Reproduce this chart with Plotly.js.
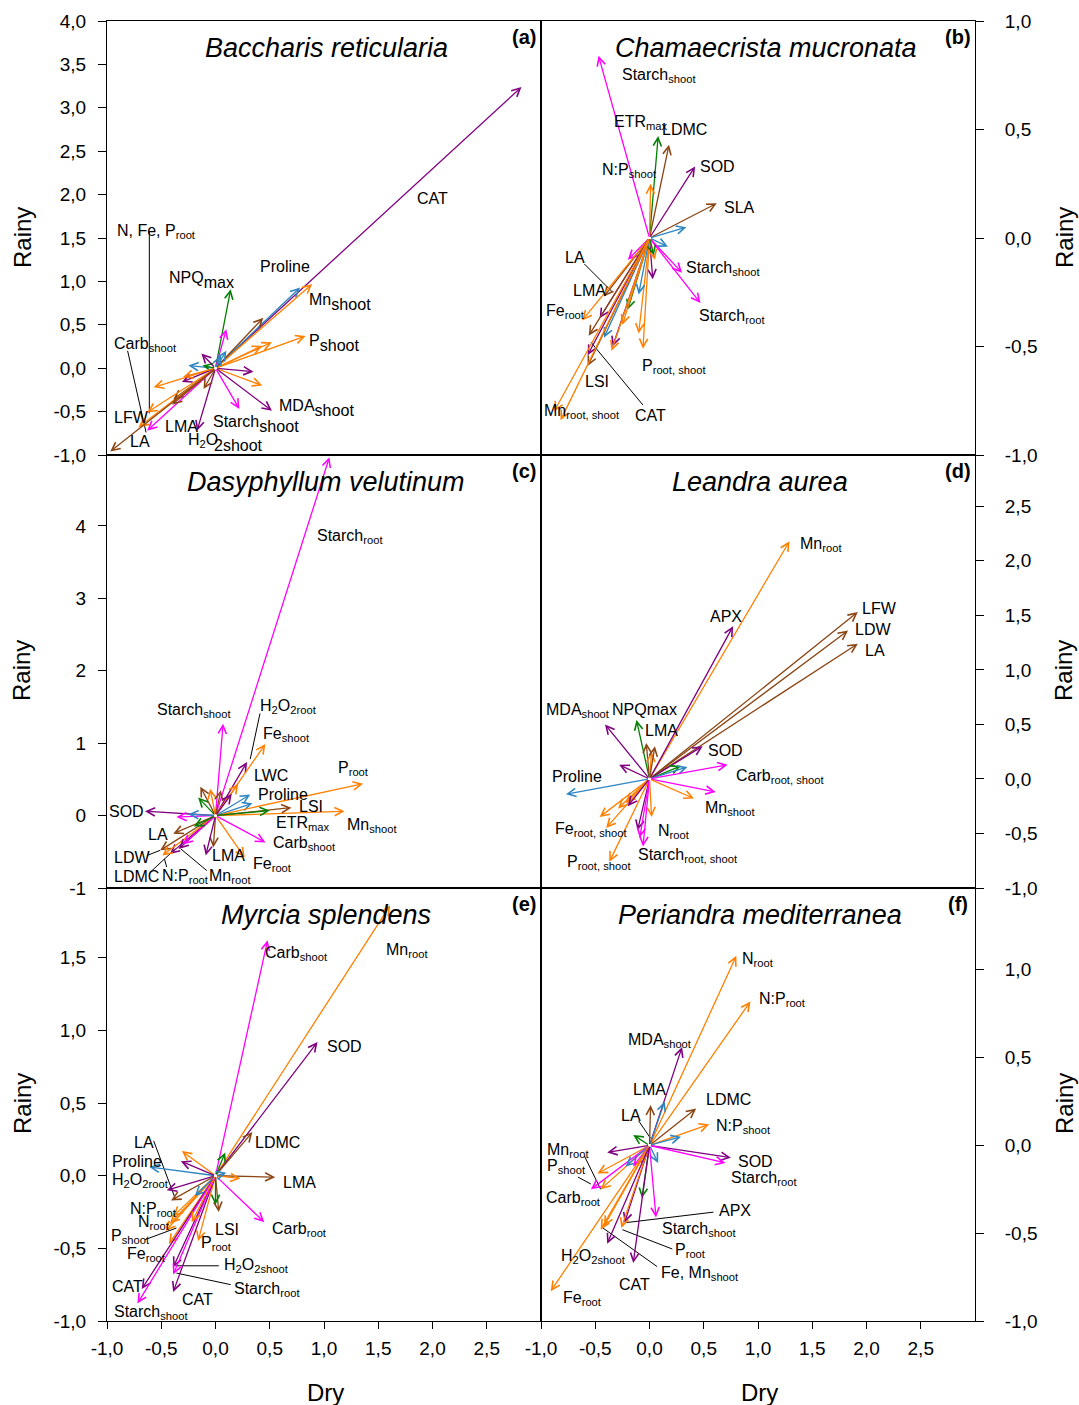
<!DOCTYPE html>
<html><head><meta charset="utf-8">
<script src="https://cdn.plot.ly/plotly-3.0.1.min.js"></script>
<style>body{margin:0;background:#fff}</style>
</head><body>
<div id="chart" style="width:1079px;height:1405px"></div>
<script>
// ---------- DATA (arrow tips; every arrow starts at the origin) ----------
// group codes: P purple, O orange, B brown, M magenta, G green, C blue
const aX = [2.82,0.78,0.89,0.83,0.52,0.43,0.44,0.14,0.10,0.10,0.05,-0.25,-0.12,-0.13,0.35,0.43,0.52,0.22,-0.17,-0.57,-0.31,-0.30,-0.39,-0.11,-0.63,-0.63,-0.71,-0.97,-0.40];
const aY = [3.24,0.93,0.97,0.37,0.30,0.26,0.58,0.91,0.45,0.20,0.15,0.03,0.03,0.17,-0.04,-0.20,-0.49,-0.47,-0.72,-0.22,-0.16,-0.10,-0.36,-0.24,-0.51,-0.72,-0.68,-0.96,-0.42];
const aG = ['P','C','O','O','O','O','B','G','M','C','C','C','G','P','P','O','P','M','P','O','P','O','B','B','O','M','O','B','B'];

const bX = [-0.47,0.08,0.18,0.01,0.42,0.62,0.34,0.17,0.30,0.47,-0.20,0.03,0.05,-0.10,-0.06,-0.20,-0.10,-0.42,-0.34,-0.35,-0.46,-0.42,-0.62,-0.56,-0.57,-0.57,-0.88,-0.82,-0.25,0.04];
const bY = [0.84,0.47,0.43,0.25,0.33,0.16,0.05,-0.04,-0.16,-0.30,-0.10,-0.19,-0.10,-0.44,-0.51,-0.33,-0.26,-0.46,-0.50,-0.52,-0.37,-0.27,-0.38,-0.45,-0.54,-0.59,-0.80,-0.84,-0.40,-0.08];
const bG = ['M','G','B','O','P','B','C','C','M','M','M','P','O','O','O','G','C','C','P','O','P','B','O','B','P','B','O','O','O','G'];

const cX = [1.05,0.07,0.29,0.46,0.21,0.32,0.34,1.36,1.19,0.70,0.50,0.46,0.27,-0.02,-0.09,-0.65,-0.36,-0.25,-0.14,-0.16,-0.05,0.05,0.15,-0.39,-0.51,-0.42,-0.49,-0.34,-0.30,-0.20];
const cY = [4.95,1.27,0.74,0.99,0.44,0.29,0.17,0.44,0.06,0.11,0.07,-0.37,-0.58,-0.44,-0.55,0.06,-0.02,0.02,0.40,0.25,0.37,0.35,0.30,-0.25,-0.48,-0.53,-0.55,-0.46,-0.40,-0.15];
const cG = ['M','M','P','O','O','C','C','O','O','B','G','M','O','B','P','P','M','C','B','G','O','B','P','B','B','P','O','P','M','G'];

const dX = [1.29,0.77,1.92,1.83,1.92,-0.41,-0.12,-0.03,0.02,0.05,0.49,0.29,0.35,0.72,0.61,0.41,-0.77,-0.28,-0.46,-0.40,-0.29,-0.22,-0.37,-0.11,-0.09,-0.06,0.02,-0.20];
const dY = [2.18,1.40,1.53,1.36,1.24,0.50,0.54,0.33,0.25,0.30,0.30,0.12,0.11,0.13,-0.12,-0.18,-0.14,0.13,-0.35,-0.45,-0.27,-0.22,-0.76,-0.47,-0.54,-0.62,-0.35,-0.25];
const dG = ['O','P','B','B','B','P','G','B','O','B','P','G','C','M','M','O','C','P','O','O','O','O','O','P','M','M','O','P'];

const eX = [1.61,0.48,0.94,0.34,0.09,0.55,0.23,0.45,0.03,0.00,-0.16,-0.61,-0.31,-0.32,-0.45,-0.41,-0.46,-0.42,-0.39,-0.43,-0.19,-0.68,-0.39,-0.72,-0.39,-0.39,-0.22,0.10];
const eY = [1.86,1.62,0.92,0.30,0.16,-0.01,-0.02,-0.32,-0.25,-0.20,-0.45,0.06,0.17,0.10,-0.10,-0.17,-0.38,-0.33,-0.28,-0.47,-0.14,-0.78,-0.80,-0.88,-0.63,-0.68,-0.32,0.02];
const eG = ['O','M','P','B','G','B','O','M','B','G','O','C','O','P','P','B','O','O','O','O','C','P','P','M','P','M','O','C'];

const fX = [0.80,0.93,0.30,0.14,0.01,0.43,0.55,0.29,-0.15,0.75,0.70,0.08,-0.39,-0.48,-0.54,-0.45,-0.22,-0.15,0.06,-0.07,-0.23,-0.26,-0.45,-0.42,-0.39,-0.15,-0.91];
const fY = [1.08,0.82,0.56,0.25,0.23,0.21,0.12,0.05,0.06,-0.07,-0.10,-0.10,-0.04,-0.16,-0.25,-0.25,-0.12,-0.12,-0.41,-0.30,-0.44,-0.47,-0.48,-0.46,-0.56,-0.67,-0.83];
const fG = ['O','O','P','C','B','B','O','C','G','P','M','C','P','O','M','O','C','M','M','G','P','O','O','O','P','P','O'];

// ---------- variable labels ----------
// BIG(): label whose subscript is printed at full size (panel a)
const BIG = (main, sub) => '<span style="font-size:16px">' + main + '</span><sub>' + sub + '</sub>';
const aLabels = ['N, Fe, P<sub>root</sub>',BIG('NPQ','max'),'Proline',BIG('Mn','shoot'),BIG('P','shoot'),'CAT','Carb<sub>shoot</sub>',BIG('MDA','shoot'),BIG('Starch','shoot'),'LMA','H<sub>2</sub>O','2shoot','LFW','LA'];
const bLabels = ['Starch<sub>shoot</sub>','ETR<sub>max</sub>','LDMC','N:P<sub>shoot</sub>','SOD','SLA','LA','LMA','Fe<sub>root</sub>','Starch<sub>shoot</sub>','Starch<sub>root</sub>','P<sub>root, shoot</sub>','LSI','Mn<sub>root, shoot</sub>','CAT'];
const cLabels = ['Starch<sub>root</sub>','Starch<sub>shoot</sub>','H<sub>2</sub>O<sub>2root</sub>','Fe<sub>shoot</sub>','LWC','Proline','LSI','P<sub>root</sub>','ETR<sub>max</sub>','Mn<sub>shoot</sub>','Carb<sub>shoot</sub>','SOD','LA','LDW','LMA','Fe<sub>root</sub>','LDMC','N:P<sub>root</sub>','Mn<sub>root</sub>'];
const dLabels = ['Mn<sub>root</sub>','APX','LFW','LDW','LA','MDA<sub>shoot</sub>','NPQmax','LMA','SOD','Proline','Carb<sub>root, shoot</sub>','Mn<sub>shoot</sub>','Fe<sub>root, shoot</sub>','N<sub>root</sub>','Starch<sub>root, shoot</sub>','P<sub>root, shoot</sub>'];
const eLabels = ['Carb<sub>shoot</sub>','Mn<sub>root</sub>','SOD','LDMC','LMA','Carb<sub>root</sub>','LSI','P<sub>root</sub>','H<sub>2</sub>O<sub>2shoot</sub>','Starch<sub>root</sub>','CAT','LA','Proline','H<sub>2</sub>O<sub>2root</sub>','N:P<sub>root</sub>','N<sub>root</sub>','P<sub>shoot</sub>','Fe<sub>root</sub>','CAT','Starch<sub>shoot</sub>'];
const fLabels = ['N<sub>root</sub>','N:P<sub>root</sub>','MDA<sub>shoot</sub>','LMA','LDMC','LA','N:P<sub>shoot</sub>','Mn<sub>root</sub>','P<sub>shoot</sub>','SOD','Starch<sub>root</sub>','Carb<sub>root</sub>','APX','Starch<sub>shoot</sub>','P<sub>root</sub>','H<sub>2</sub>O<sub>2shoot</sub>','Fe, Mn<sub>shoot</sub>','CAT','Fe<sub>root</sub>'];

const speciesNames = ['Baccharis reticularia','Chamaecrista mucronata','Dasyphyllum velutinum','Leandra aurea','Myrcia splendens','Periandra mediterranea'];
const panelTags = ['(a)','(b)','(c)','(d)','(e)','(f)'];

const xTickVals = [-1,-0.5,0,0.5,1,1.5,2,2.5];
const xTickText = ['-1,0','-0,5','0,0','0,5','1,0','1,5','2,0','2,5'];
const aTickVals = [-1,-0.5,0,0.5,1,1.5,2,2.5,3,3.5,4];
const bTickVals = [-1,-0.5,0,0.5,1];
const cTickVals = [-1,0,1,2,3,4];
const dTickVals = [-1,-0.5,0,0.5,1,1.5,2,2.5];
const eTickVals = [-1,-0.5,0,0.5,1,1.5];
const fTickVals = [-1,-0.5,0,0.5,1];

// ---------- layout helpers (label placement, leader lines) ----------
const aLabelPos = [[-0.93,1.57],[-0.45,1.02],[0.39,1.17],[0.84,0.76],[0.84,0.29],[1.84,1.96],[-0.95,0.27],[0.57,-0.46],[-0.04,-0.64],[-0.48,-0.67],[-0.27,-0.83],[-0.03,-0.89],[-0.95,-0.57],[-0.81,-0.85]];
const bLabelPos = [[-0.27,0.75],[-0.35,0.53],[0.10,0.50],[-0.46,0.31],[0.45,0.33],[0.67,0.14],[-0.80,-0.09],[-0.72,-0.24],[-0.97,-0.34],[0.32,-0.14],[0.44,-0.36],[-0.09,-0.59],[-0.61,-0.66],[-0.99,-0.80],[-0.15,-0.82]];
const cLabelPos = [[0.92,3.85],[-0.56,1.45],[0.39,1.51],[0.42,1.12],[0.34,0.55],[0.37,0.29],[0.75,0.12],[1.11,0.65],[0.54,-0.11],[1.19,-0.14],[0.51,-0.39],[-1.0,0.06],[-0.64,-0.26],[-0.95,-0.58],[-0.05,-0.55],[0.33,-0.68],[-0.95,-0.84],[-0.51,-0.84],[-0.08,-0.84]];
const dLabelPos = [[1.37,2.15],[0.54,1.49],[1.94,1.56],[1.88,1.37],[1.97,1.18],[-0.97,0.63],[-0.36,0.64],[-0.06,0.44],[0.52,0.26],[-0.92,0.02],[0.78,0.02],[0.49,-0.27],[-0.89,-0.46],[0.06,-0.48],[-0.12,-0.70],[-0.78,-0.77]];
const eLabelPos = [[0.44,1.53],[1.55,1.55],[1.01,0.89],[0.35,0.23],[0.60,-0.05],[0.50,-0.37],[-0.02,-0.37],[-0.15,-0.47],[0.06,-0.62],[0.15,-0.78],[-0.33,-0.85],[-0.77,0.23],[-0.97,0.10],[-0.97,-0.03],[-0.81,-0.23],[-0.73,-0.32],[-0.98,-0.42],[-0.83,-0.54],[-0.97,-0.76],[-0.95,-0.94]];
const fLabelPos = [[0.83,1.06],[0.99,0.83],[-0.22,0.60],[-0.17,0.32],[0.50,0.26],[-0.28,0.17],[0.59,0.11],[-0.96,-0.03],[-0.96,-0.12],[0.80,-0.09],[0.73,-0.19],[-0.97,-0.30],[0.62,-0.37],[0.10,-0.48],[0.22,-0.60],[-0.83,-0.63],[0.09,-0.73],[-0.30,-0.79],[-0.82,-0.87]];

const aLeaders = [[[-0.61,1.58],[-0.61,-0.52]],[[-0.81,0.20],[-0.64,-0.74]]];
const bLeaders = [[[-0.60,-0.12],[-0.34,-0.25]],[[-0.54,-0.48],[-0.06,-0.77]]];
const cLeaders = [[[0.41,1.41],[0.32,0.78]],[[-0.63,-0.55],[-0.51,-0.48]],[[-0.60,-0.78],[-0.37,-0.46]],[[-0.45,-0.71],[-0.47,-0.60]],[[-0.08,-0.76],[-0.32,-0.46]]];
const dLeaders = [];
const eLeaders = [[[-0.57,0.24],[-0.37,-0.16]],[[-0.37,-0.62],[0.03,-0.62]],[[-0.36,-0.67],[0.14,-0.75]],[[-0.65,-0.44],[-0.36,-0.36]]];
const fLeaders = [[[-0.22,-0.44],[0.59,-0.38]],[[-0.25,-0.48],[0.21,-0.59]],[[-0.43,-0.47],[0.07,-0.69]],[[-0.10,0.14],[0.01,0.04]],[[-0.60,-0.06],[-0.45,-0.25]],[[-0.66,-0.18],[-0.54,-0.22]]];

const COLORS = {P:'#800080', O:'#FF8000', B:'#8B4513', M:'#FF00FF', G:'#008000', C:'#2E86C1'};
const FONT = 'Arial, "Liberation Sans", sans-serif';

const panels = [
  {X:aX,Y:aY,G:aG,L:aLabels,LP:aLabelPos,LD:aLeaders,ticks:aTickVals,yr:[-1,4],dec:1,col:0,row:0},
  {X:bX,Y:bY,G:bG,L:bLabels,LP:bLabelPos,LD:bLeaders,ticks:bTickVals,yr:[-1,1],dec:1,col:1,row:0},
  {X:cX,Y:cY,G:cG,L:cLabels,LP:cLabelPos,LD:cLeaders,ticks:cTickVals,yr:[-1,4.98],dec:0,col:0,row:1},
  {X:dX,Y:dY,G:dG,L:dLabels,LP:dLabelPos,LD:dLeaders,ticks:dTickVals,yr:[-1,2.97],dec:1,col:1,row:1},
  {X:eX,Y:eY,G:eG,L:eLabels,LP:eLabelPos,LD:eLeaders,ticks:eTickVals,yr:[-1,1.98],dec:1,col:0,row:2},
  {X:fX,Y:fY,G:fG,L:fLabels,LP:fLabelPos,LD:fLeaders,ticks:fTickVals,yr:[-1,1.466],dec:1,col:1,row:2}
];

const W = 1079, H = 1405;
const colDom = [[107/W, 541/W],[541/W, 975/W]];
const rowDom = [[1-455/H, 1-21/H],[1-888/H, 1-455/H],[1-1321/H, 1-888/H]];
const titleXd = [0.505,0.518,0.505,0.505,0.505,0.505];

const layout = {
  width: W, height: H, margin:{l:0,r:0,t:0,b:0},
  paper_bgcolor:'#fff', plot_bgcolor:'#fff', showlegend:false,
  font:{family:FONT, color:'#000', size:16},
  annotations: [], shapes: []
};
const traces = [];

panels.forEach((p, i) => {
  const s = i === 0 ? '' : String(i+1);
  const xr = 'x'+s, yr = 'y'+s;
  const bottom = p.row === 2;
  layout['xaxis'+s] = {
    domain: colDom[p.col], anchor: yr, range:[-1,3],
    showline:true, mirror:true, linecolor:'#000', linewidth:1,
    showgrid:false, zeroline:false,
    tickmode:'array', tickvals: xTickVals, ticktext: xTickText,
    ticks: bottom ? 'outside' : '', ticklen:7, tickcolor:'#000',
    ticklabelstandoff: 3,
    showticklabels: bottom, tickfont:{size:19, family:FONT}
  };
  layout['yaxis'+s] = {
    domain: rowDom[p.row], anchor: xr, range:p.yr,
    side: p.col === 0 ? 'left' : 'right',
    showline:true, mirror:true, linecolor:'#000', linewidth:1,
    showgrid:false, zeroline:false,
    tickmode:'array', tickvals:p.ticks,
    ticktext:p.ticks.map(v => p.dec ? v.toFixed(1).replace('.',',') : String(v)),
    ticks:'outside', ticklen:8, tickcolor:'#000',
    ticklabelstandoff: p.col === 0 ? 8 : 17,
    tickfont:{size:19, family:FONT}
  };
  // arrows from origin
  p.X.forEach((vx, k) => {
    layout.annotations.push({
      xref:xr, yref:yr, axref:xr, ayref:yr,
      x:vx, y:p.Y[k], ax:0, ay:0, text:'',
      showarrow:true, arrowhead:5, arrowsize:1.25, arrowwidth:1.3,
      arrowcolor: COLORS[p.G[k]], standoff:0, startstandoff:0
    });
  });
  // labels
  p.L.forEach((t, k) => {
    const big = t.indexOf('font-size:16px') >= 0;
    layout.annotations.push({
      xref:xr, yref:yr, x:p.LP[k][0], y:p.LP[k][1], text:t,
      showarrow:false, xanchor:'left', yanchor:'middle',
      font:{size: big ? 23 : 16, family:FONT, color:'#000'}
    });
  });
  // leader lines
  if (p.LD.length) {
    const lx = [], ly = [];
    p.LD.forEach(seg => { lx.push(seg[0][0], seg[1][0], null); ly.push(seg[0][1], seg[1][1], null); });
    traces.push({type:'scatter', mode:'lines', x:lx, y:ly, xaxis:xr, yaxis:yr,
      line:{color:'#000', width:1}, hoverinfo:'skip'});
  } else {
    traces.push({type:'scatter', mode:'lines', x:[], y:[], xaxis:xr, yaxis:yr, hoverinfo:'skip'});
  }
  // species title and panel tag
  layout.annotations.push({
    xref:xr+' domain', yref:yr+' domain', x:titleXd[i], y:0.938,
    text:'<i>'+speciesNames[i]+'</i>', showarrow:false, xanchor:'center', yanchor:'middle',
    font:{size:27, family:FONT, color:'#000'}
  });
  layout.annotations.push({
    xref:xr+' domain', yref:yr+' domain', x:0.961, y:0.962,
    text:'<b>'+panelTags[i]+'</b>', showarrow:false, xanchor:'center', yanchor:'middle',
    font:{size:20, family:FONT, color:'#000'}
  });
});

// axis titles
[238, 671, 1104].forEach(py => {
  layout.annotations.push({xref:'paper', yref:'paper', x:22/W, y:1-py/H, text:'Rainy',
    textangle:-90, showarrow:false, xanchor:'center', yanchor:'middle', font:{size:24, family:FONT}});
  layout.annotations.push({xref:'paper', yref:'paper', x:1064/W, y:1-py/H, text:'Rainy',
    textangle:-90, showarrow:false, xanchor:'center', yanchor:'middle', font:{size:24, family:FONT}});
});
[325, 759].forEach(px => {
  layout.annotations.push({xref:'paper', yref:'paper', x:px/W, y:1-1392/H, text:'Dry',
    showarrow:false, xanchor:'center', yanchor:'middle', font:{size:24, family:FONT}});
});

Plotly.newPlot('chart', traces, layout, {staticPlot:true, displayModeBar:false});
</script>
</body></html>
